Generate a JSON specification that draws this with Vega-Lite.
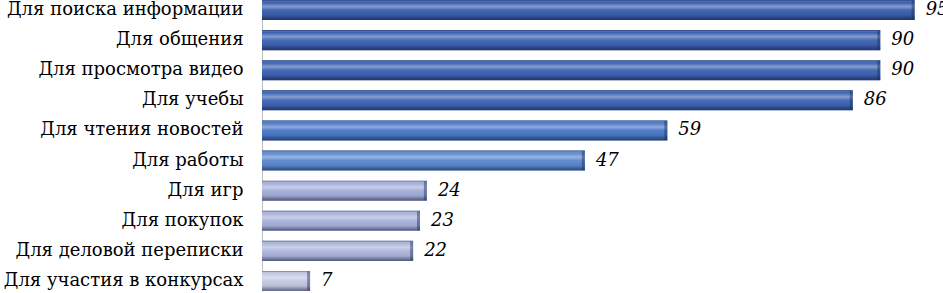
{
  "$schema": "https://vega.github.io/schema/vega-lite/v6.json",
  "autosize": {"type": "none"},
  "padding": {"left": 262, "top": 0, "right": 0, "bottom": 0},
  "width": 687,
  "height": 291,
  "background": "white",
  "config": {"view": {"stroke": null}, "font": "DejaVu Serif"},
  "data": {
    "values": [
      {"purpose": "Для поиска информации", "pct": 95},
      {"purpose": "Для общения", "pct": 90},
      {"purpose": "Для просмотра видео", "pct": 90},
      {"purpose": "Для учебы", "pct": 86},
      {"purpose": "Для чтения новостей ", "pct": 59},
      {"purpose": "Для работы", "pct": 47},
      {"purpose": "Для игр", "pct": 24},
      {"purpose": "Для покупок", "pct": 23},
      {"purpose": "Для деловой переписки", "pct": 22},
      {"purpose": "Для участия в конкурсах", "pct": 7}
    ]
  },
  "encoding": {
    "y": {
      "field": "purpose",
      "type": "nominal",
      "sort": null,
      "scale": {"paddingInner": 0.335, "paddingOuter": 0},
      "axis": {
        "title": null,
        "ticks": false,
        "grid": false,
        "domain": true,
        "domainColor": "#bfbfbf",
        "domainWidth": 1,
        "labelFont": "DejaVu Serif",
        "labelFontSize": 18,
        "labelColor": "#000000",
        "labelPadding": 19,
        "labelLimit": 300
      }
    },
    "x": {
      "field": "pct",
      "type": "quantitative",
      "scale": {"domain": [0, 100], "nice": false},
      "axis": null
    }
  },
  "layer": [
    {
      "mark": {"type": "bar", "cornerRadius": 0},
      "encoding": {
        "color": {
          "field": "pct",
          "type": "quantitative",
          "scale": {
            "domain": [7, 22, 24, 47, 59, 86, 95],
            "range": ["#c3c9e4", "#adb6dc", "#a3aed8", "#5a87cf", "#4a77c6", "#3d64b3", "#3a5fae"]
          },
          "legend": null
        }
      }
    },
    {
      "mark": {
        "type": "bar",
        "fill": {
          "gradient": "linear",
          "x1": 0, "y1": 0, "x2": 0, "y2": 1,
          "stops": [
            {"offset": 0, "color": "rgba(10,20,60,0.55)"},
            {"offset": 0.12, "color": "rgba(255,255,255,0.0)"},
            {"offset": 0.33, "color": "rgba(255,255,255,0.38)"},
            {"offset": 0.5, "color": "rgba(255,255,255,0.05)"},
            {"offset": 0.75, "color": "rgba(0,0,0,0.05)"},
            {"offset": 1, "color": "rgba(10,20,60,0.55)"}
          ]
        }
      }
    },
    {
      "mark": {"type": "tick", "orient": "vertical", "thickness": 3, "size": 19, "xOffset": -1.5, "color": "#1a2c5c", "opacity": 0.45}
    },
    {
      "mark": {
        "type": "text",
        "align": "left",
        "baseline": "middle",
        "dx": 11,
        "font": "DejaVu Serif",
        "fontSize": 18,
        "fontStyle": "italic",
        "color": "#000000"
      },
      "encoding": {"text": {"field": "pct", "type": "quantitative"}}
    }
  ]
}
